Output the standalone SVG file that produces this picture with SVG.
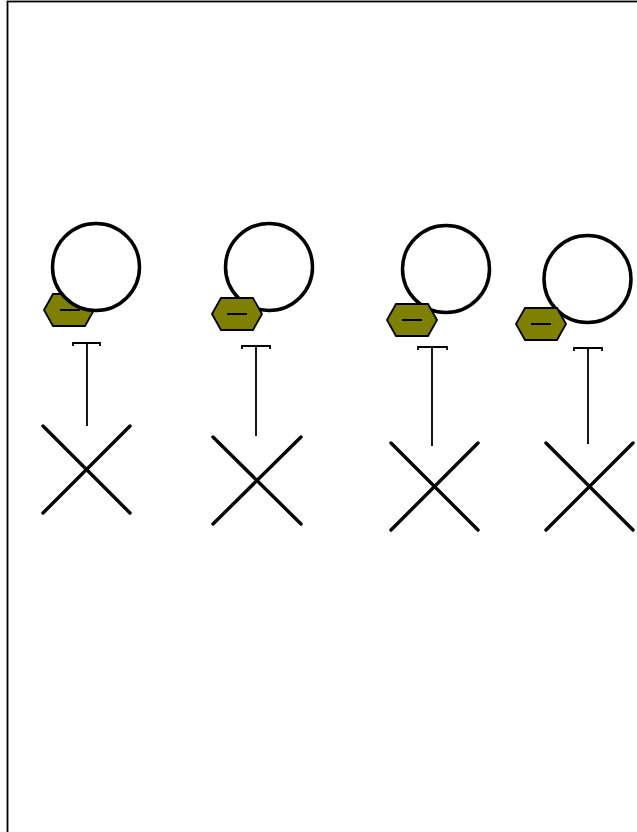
<svg xmlns="http://www.w3.org/2000/svg" width="637" height="832" viewBox="0 0 637 832">
<defs>
<style>
.frame{fill:none;stroke:#000;stroke-width:1.8}
.comp{fill:#fff;stroke:#000;stroke-width:3.5}
.hex{fill:#808000;stroke:#000;stroke-width:1.8}
.minus{stroke:#000;stroke-width:2}
.link{fill:none;stroke:#000;stroke-width:1.8}
.sink{stroke:#000;stroke-width:3.4;stroke-linecap:round}
</style>
<polygon id="hexShape" points="-25,0 -16,-16 16,-16 25,0 16,16 -16,16"/>
</defs>
<rect class="frame" x="7.5" y="1.5" width="700" height="900"/>
<g id="connectors">
<path class="link" d="M73,346 V343 H100 V346 M87,343 V426"/>
<path class="link" d="M242,349 V346 H270 V349 M256,346 V436"/>
<path class="link" d="M418,350 V347 H447 V350 M432,347 V446"/>
<path class="link" d="M574,351 V348 H602 V351 M588,348 V444"/>
</g>
<g id="node1">
<use href="#hexShape" class="hex" x="69" y="310"/>
<line class="minus" x1="60" y1="310" x2="80" y2="310"/>
<circle class="comp" cx="96" cy="267" r="43.5"/>
</g>
<g id="node2">
<circle class="comp" cx="269" cy="267" r="43.5"/>
<use href="#hexShape" class="hex" x="237" y="314"/>
<line class="minus" x1="227" y1="314" x2="247" y2="314"/>
</g>
<g id="node3">
<circle class="comp" cx="446" cy="269" r="43.5"/>
<use href="#hexShape" class="hex" x="412" y="320"/>
<line class="minus" x1="402" y1="320" x2="422" y2="320"/>
</g>
<g id="node4">
<circle class="comp" cx="587.5" cy="279" r="43.5"/>
<use href="#hexShape" class="hex" x="541" y="324"/>
<line class="minus" x1="531" y1="324" x2="551" y2="324"/>
</g>
<g id="sink1"><path class="sink" d="M43,426 L130,513 M130,426 L43,513"/></g>
<g id="sink2"><path class="sink" d="M213,437 L301,524 M301,437 L213,524"/></g>
<g id="sink3"><path class="sink" d="M391,443 L478,530 M478,443 L391,530"/></g>
<g id="sink4"><path class="sink" d="M546,443 L633,530 M633,443 L546,530"/></g>
</svg>
